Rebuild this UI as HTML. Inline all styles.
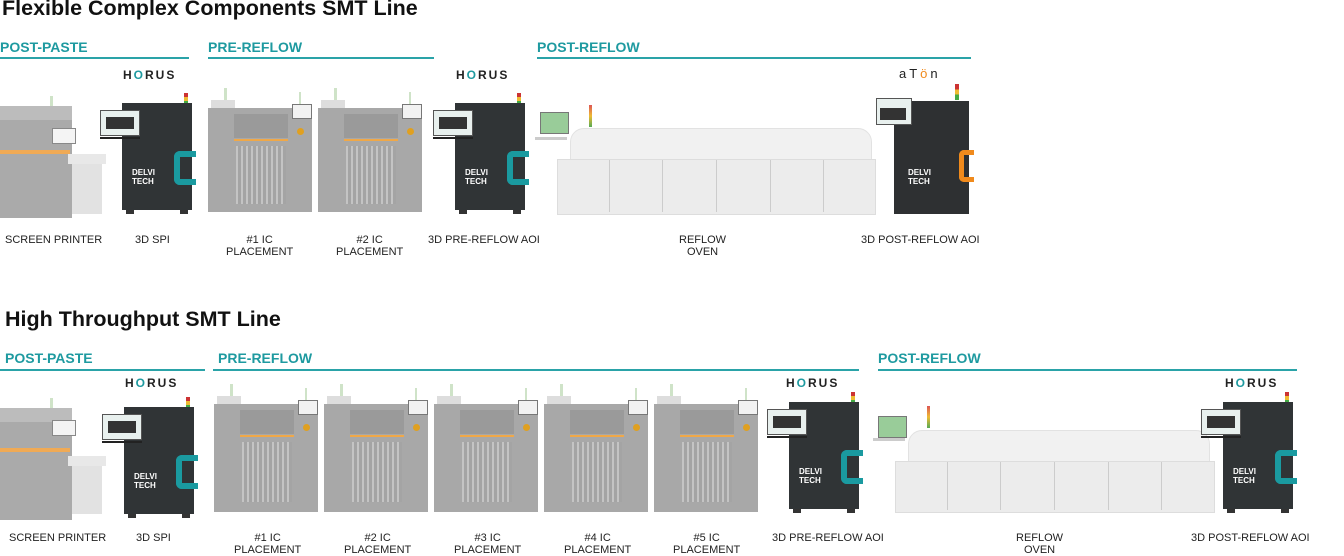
<!DOCTYPE html>
<html><head><meta charset="utf-8"><style>
body{margin:0;width:1344px;height:556px;background:#fff;position:relative;overflow:hidden;font-family:"Liberation Sans",sans-serif}
.t{position:absolute;font-weight:bold;font-size:21.5px;color:#111;white-space:nowrap}
.h{position:absolute;font-weight:bold;font-size:14px;color:#1e9aa0;white-space:nowrap}
.ln{position:absolute;height:1.5px;background:#2aa3a8}
.lb{position:absolute;font-size:11px;color:#222;text-align:center;line-height:12px;white-space:nowrap}
.logo{position:absolute;font-size:12px;letter-spacing:2px;color:#222;font-weight:bold}
.m{position:absolute}
.m div{position:absolute}
.feed{background:repeating-linear-gradient(90deg,#c4c4c4 0 2px,#a4a4a4 2px 5px)}
</style></head><body>

<div class="t" style="left:2px;top:-4px">Flexible Complex Components SMT Line</div>
<div class="h" style="left:0;top:39px">POST-PASTE</div><div class="ln" style="left:0;top:57px;width:189px"></div>
<div class="h" style="left:208px;top:39px">PRE-REFLOW</div><div class="ln" style="left:208px;top:57px;width:226px"></div>
<div class="h" style="left:537px;top:39px">POST-REFLOW</div><div class="ln" style="left:537px;top:57px;width:434px"></div>

<div class="m" style="left:0;top:84px">
<div style="left:50px;top:12px;width:3px;height:14px;background:#cfe3c8"></div>
<div style="left:0;top:22px;width:72px;height:112px;background:#aaa"></div>
<div style="left:0;top:22px;width:72px;height:14px;background:#bcbcbc"></div>
<div style="left:0;top:66px;width:70px;height:4px;background:#f0aa55"></div>
<div style="left:52px;top:44px;width:22px;height:14px;background:#f4f4f4;border:1px solid #888"></div>
<div style="left:68px;top:70px;width:38px;height:10px;background:#e8e8e8"></div>
<div style="left:72px;top:80px;width:30px;height:50px;background:#e2e2e2"></div>
</div>
<div class="logo" style="left:123px;top:68px">H<span style="color:#1e9aa0">O</span>RUS</div>
<div class="m" style="left:100px;top:93px">
<div style="left:84px;top:0;width:4px;height:12px;background:linear-gradient(#c33 0 33%,#eb3 33% 66%,#4a4 66%)"></div>
<div style="left:22px;top:10px;width:70px;height:107px;background:#303436"></div>
<div style="left:0;top:17px;width:38px;height:24px;background:#e8f0ee;border:1px solid #555"></div>
<div style="left:6px;top:24px;width:28px;height:12px;background:#333"></div>
<div style="left:0;top:44px;width:40px;height:2px;background:#222"></div>
<div style="left:74px;top:58px;width:16px;height:22px;border:6px solid #1a9aa0;border-right:none;border-radius:6px 0 0 6px"></div>
<div style="left:32px;top:75px;color:#fff;font-size:8px;font-weight:bold;line-height:9px">DELVI<br>TECH</div>
<div style="left:26px;top:117px;width:8px;height:4px;background:#333"></div><div style="left:80px;top:117px;width:8px;height:4px;background:#333"></div>
</div>

<div class="m" style="left:208px;top:88px">
<div style="left:16px;top:0;width:3px;height:14px;background:#cfe3c8"></div>
<div style="left:3px;top:12px;width:24px;height:8px;background:#ddd"></div>
<div style="left:0;top:20px;width:104px;height:104px;background:#a8a8a8"></div>
<div style="left:26px;top:26px;width:54px;height:24px;background:#9a9a9a"></div>
<div style="left:26px;top:51px;width:54px;height:2px;background:#f0a848"></div>
<div class="feed" style="left:28px;top:58px;width:50px;height:58px"></div>
<div style="left:91px;top:4px;width:2px;height:12px;background:#cfe3c8"></div>
<div style="left:84px;top:16px;width:18px;height:13px;background:#f2f2f2;border:1px solid #777"></div>
<div style="left:89px;top:40px;width:7px;height:7px;border-radius:50%;background:#e0a020"></div>
</div>
<div class="m" style="left:318px;top:88px">
<div style="left:16px;top:0;width:3px;height:14px;background:#cfe3c8"></div>
<div style="left:3px;top:12px;width:24px;height:8px;background:#ddd"></div>
<div style="left:0;top:20px;width:104px;height:104px;background:#a8a8a8"></div>
<div style="left:26px;top:26px;width:54px;height:24px;background:#9a9a9a"></div>
<div style="left:26px;top:51px;width:54px;height:2px;background:#f0a848"></div>
<div class="feed" style="left:28px;top:58px;width:50px;height:58px"></div>
<div style="left:91px;top:4px;width:2px;height:12px;background:#cfe3c8"></div>
<div style="left:84px;top:16px;width:18px;height:13px;background:#f2f2f2;border:1px solid #777"></div>
<div style="left:89px;top:40px;width:7px;height:7px;border-radius:50%;background:#e0a020"></div>
</div>

<div class="logo" style="left:456px;top:68px">H<span style="color:#1e9aa0">O</span>RUS</div>
<div class="m" style="left:433px;top:93px">
<div style="left:84px;top:0;width:4px;height:12px;background:linear-gradient(#c33 0 33%,#eb3 33% 66%,#4a4 66%)"></div>
<div style="left:22px;top:10px;width:70px;height:107px;background:#303436"></div>
<div style="left:0;top:17px;width:38px;height:24px;background:#e8f0ee;border:1px solid #555"></div>
<div style="left:6px;top:24px;width:28px;height:12px;background:#333"></div>
<div style="left:0;top:44px;width:40px;height:2px;background:#222"></div>
<div style="left:74px;top:58px;width:16px;height:22px;border:6px solid #1a9aa0;border-right:none;border-radius:6px 0 0 6px"></div>
<div style="left:32px;top:75px;color:#fff;font-size:8px;font-weight:bold;line-height:9px">DELVI<br>TECH</div>
<div style="left:26px;top:117px;width:8px;height:4px;background:#333"></div><div style="left:80px;top:117px;width:8px;height:4px;background:#333"></div>
</div>

<div class="m" style="left:540px;top:100px">
<div style="left:49px;top:5px;width:3px;height:22px;background:linear-gradient(#d55,#eb3,#5a5)"></div>
<div style="left:0;top:12px;width:27px;height:20px;background:#9c9;border:1px solid #777"></div>
<div style="left:-5px;top:37px;width:32px;height:3px;background:#ccc"></div>
<div style="left:30px;top:28px;width:300px;height:32px;background:#f1f1f1;border-radius:14px 14px 0 0;border:1px solid #e2e2e2"></div>
<div style="left:17px;top:59px;width:317px;height:54px;background:#ececec;border:1px solid #ddd"></div>
<div style="left:69px;top:60px;width:1px;height:52px;background:#ccc"></div>
<div style="left:122px;top:60px;width:1px;height:52px;background:#ccc"></div>
<div style="left:176px;top:60px;width:1px;height:52px;background:#ccc"></div>
<div style="left:230px;top:60px;width:1px;height:52px;background:#ccc"></div>
<div style="left:283px;top:60px;width:1px;height:52px;background:#ccc"></div>
</div>

<div class="logo" style="left:899px;top:66px;color:#222;letter-spacing:3px;font-weight:normal;font-size:13px">aT<span style="color:#f08a1c">ö</span>n</div>
<div class="m" style="left:876px;top:84px">
<div style="left:79px;top:0;width:4px;height:16px;background:linear-gradient(#c33 0 33%,#eb3 33% 66%,#4a4 66%)"></div>
<div style="left:18px;top:17px;width:75px;height:113px;background:#2e3032"></div>
<div style="left:0;top:14px;width:34px;height:25px;background:#e8f0ee;border:1px solid #555"></div>
<div style="left:4px;top:24px;width:26px;height:12px;background:#333"></div>
<div style="left:83px;top:66px;width:10px;height:22px;border:5px solid #f08a1c;border-right:none;border-radius:5px 0 0 5px"></div>
<div style="left:32px;top:84px;color:#fff;font-size:8px;font-weight:bold;line-height:9px">DELVI<br>TECH</div>
</div>

<div class="lb" style="left:5px;top:234px">SCREEN PRINTER</div>
<div class="lb" style="left:135px;top:234px">3D SPI</div>
<div class="lb" style="left:226px;top:234px">#1 IC<br>PLACEMENT</div>
<div class="lb" style="left:336px;top:234px">#2 IC<br>PLACEMENT</div>
<div class="lb" style="left:428px;top:234px">3D PRE-REFLOW AOI</div>
<div class="lb" style="left:679px;top:234px">REFLOW<br>OVEN</div>
<div class="lb" style="left:861px;top:234px">3D POST-REFLOW AOI</div>

<div class="t" style="left:5px;top:307px">High Throughput SMT Line</div>
<div class="h" style="left:5px;top:350px">POST-PASTE</div><div class="ln" style="left:0;top:369px;width:205px"></div>
<div class="h" style="left:218px;top:350px">PRE-REFLOW</div><div class="ln" style="left:213px;top:369px;width:646px"></div>
<div class="h" style="left:878px;top:350px">POST-REFLOW</div><div class="ln" style="left:878px;top:369px;width:419px"></div>

<div class="m" style="left:0;top:386px">
<div style="left:50px;top:12px;width:3px;height:14px;background:#cfe3c8"></div>
<div style="left:0;top:22px;width:72px;height:112px;background:#aaa"></div>
<div style="left:0;top:22px;width:72px;height:14px;background:#bcbcbc"></div>
<div style="left:0;top:62px;width:70px;height:4px;background:#f0aa55"></div>
<div style="left:52px;top:34px;width:22px;height:14px;background:#f4f4f4;border:1px solid #888"></div>
<div style="left:68px;top:70px;width:38px;height:10px;background:#e8e8e8"></div>
<div style="left:72px;top:80px;width:30px;height:48px;background:#e2e2e2"></div>
</div>
<div class="logo" style="left:125px;top:376px">H<span style="color:#1e9aa0">O</span>RUS</div>
<div class="m" style="left:102px;top:397px">
<div style="left:84px;top:0;width:4px;height:12px;background:linear-gradient(#c33 0 33%,#eb3 33% 66%,#4a4 66%)"></div>
<div style="left:22px;top:10px;width:70px;height:107px;background:#303436"></div>
<div style="left:0;top:17px;width:38px;height:24px;background:#e8f0ee;border:1px solid #555"></div>
<div style="left:6px;top:24px;width:28px;height:12px;background:#333"></div>
<div style="left:0;top:44px;width:40px;height:2px;background:#222"></div>
<div style="left:74px;top:58px;width:16px;height:22px;border:6px solid #1a9aa0;border-right:none;border-radius:6px 0 0 6px"></div>
<div style="left:32px;top:75px;color:#fff;font-size:8px;font-weight:bold;line-height:9px">DELVI<br>TECH</div>
<div style="left:26px;top:117px;width:8px;height:4px;background:#333"></div><div style="left:80px;top:117px;width:8px;height:4px;background:#333"></div>
</div>

<div class="m" style="left:214px;top:384px"><div style="left:16px;top:0;width:3px;height:14px;background:#cfe3c8"></div><div style="left:3px;top:12px;width:24px;height:8px;background:#ddd"></div><div style="left:0;top:20px;width:104px;height:108px;background:#a8a8a8"></div><div style="left:26px;top:26px;width:54px;height:24px;background:#9a9a9a"></div><div style="left:26px;top:51px;width:54px;height:2px;background:#f0a848"></div><div class="feed" style="left:28px;top:58px;width:50px;height:60px"></div><div style="left:91px;top:4px;width:2px;height:12px;background:#cfe3c8"></div><div style="left:84px;top:16px;width:18px;height:13px;background:#f2f2f2;border:1px solid #777"></div><div style="left:89px;top:40px;width:7px;height:7px;border-radius:50%;background:#e0a020"></div></div>
<div class="m" style="left:324px;top:384px"><div style="left:16px;top:0;width:3px;height:14px;background:#cfe3c8"></div><div style="left:3px;top:12px;width:24px;height:8px;background:#ddd"></div><div style="left:0;top:20px;width:104px;height:108px;background:#a8a8a8"></div><div style="left:26px;top:26px;width:54px;height:24px;background:#9a9a9a"></div><div style="left:26px;top:51px;width:54px;height:2px;background:#f0a848"></div><div class="feed" style="left:28px;top:58px;width:50px;height:60px"></div><div style="left:91px;top:4px;width:2px;height:12px;background:#cfe3c8"></div><div style="left:84px;top:16px;width:18px;height:13px;background:#f2f2f2;border:1px solid #777"></div><div style="left:89px;top:40px;width:7px;height:7px;border-radius:50%;background:#e0a020"></div></div>
<div class="m" style="left:434px;top:384px"><div style="left:16px;top:0;width:3px;height:14px;background:#cfe3c8"></div><div style="left:3px;top:12px;width:24px;height:8px;background:#ddd"></div><div style="left:0;top:20px;width:104px;height:108px;background:#a8a8a8"></div><div style="left:26px;top:26px;width:54px;height:24px;background:#9a9a9a"></div><div style="left:26px;top:51px;width:54px;height:2px;background:#f0a848"></div><div class="feed" style="left:28px;top:58px;width:50px;height:60px"></div><div style="left:91px;top:4px;width:2px;height:12px;background:#cfe3c8"></div><div style="left:84px;top:16px;width:18px;height:13px;background:#f2f2f2;border:1px solid #777"></div><div style="left:89px;top:40px;width:7px;height:7px;border-radius:50%;background:#e0a020"></div></div>
<div class="m" style="left:544px;top:384px"><div style="left:16px;top:0;width:3px;height:14px;background:#cfe3c8"></div><div style="left:3px;top:12px;width:24px;height:8px;background:#ddd"></div><div style="left:0;top:20px;width:104px;height:108px;background:#a8a8a8"></div><div style="left:26px;top:26px;width:54px;height:24px;background:#9a9a9a"></div><div style="left:26px;top:51px;width:54px;height:2px;background:#f0a848"></div><div class="feed" style="left:28px;top:58px;width:50px;height:60px"></div><div style="left:91px;top:4px;width:2px;height:12px;background:#cfe3c8"></div><div style="left:84px;top:16px;width:18px;height:13px;background:#f2f2f2;border:1px solid #777"></div><div style="left:89px;top:40px;width:7px;height:7px;border-radius:50%;background:#e0a020"></div></div>
<div class="m" style="left:654px;top:384px"><div style="left:16px;top:0;width:3px;height:14px;background:#cfe3c8"></div><div style="left:3px;top:12px;width:24px;height:8px;background:#ddd"></div><div style="left:0;top:20px;width:104px;height:108px;background:#a8a8a8"></div><div style="left:26px;top:26px;width:54px;height:24px;background:#9a9a9a"></div><div style="left:26px;top:51px;width:54px;height:2px;background:#f0a848"></div><div class="feed" style="left:28px;top:58px;width:50px;height:60px"></div><div style="left:91px;top:4px;width:2px;height:12px;background:#cfe3c8"></div><div style="left:84px;top:16px;width:18px;height:13px;background:#f2f2f2;border:1px solid #777"></div><div style="left:89px;top:40px;width:7px;height:7px;border-radius:50%;background:#e0a020"></div></div>

<div class="logo" style="left:786px;top:376px">H<span style="color:#1e9aa0">O</span>RUS</div>
<div class="m" style="left:767px;top:392px">
<div style="left:84px;top:0;width:4px;height:12px;background:linear-gradient(#c33 0 33%,#eb3 33% 66%,#4a4 66%)"></div>
<div style="left:22px;top:10px;width:70px;height:107px;background:#303436"></div>
<div style="left:0;top:17px;width:38px;height:24px;background:#e8f0ee;border:1px solid #555"></div>
<div style="left:6px;top:24px;width:28px;height:12px;background:#333"></div>
<div style="left:0;top:44px;width:40px;height:2px;background:#222"></div>
<div style="left:74px;top:58px;width:16px;height:22px;border:6px solid #1a9aa0;border-right:none;border-radius:6px 0 0 6px"></div>
<div style="left:32px;top:75px;color:#fff;font-size:8px;font-weight:bold;line-height:9px">DELVI<br>TECH</div>
<div style="left:26px;top:117px;width:8px;height:4px;background:#333"></div><div style="left:80px;top:117px;width:8px;height:4px;background:#333"></div>
</div>

<div class="m" style="left:878px;top:404px">
<div style="left:49px;top:2px;width:3px;height:22px;background:linear-gradient(#d55,#eb3,#5a5)"></div>
<div style="left:0;top:12px;width:27px;height:20px;background:#9c9;border:1px solid #777"></div>
<div style="left:-5px;top:34px;width:32px;height:3px;background:#ccc"></div>
<div style="left:30px;top:26px;width:300px;height:32px;background:#f1f1f1;border-radius:14px 14px 0 0;border:1px solid #e2e2e2"></div>
<div style="left:17px;top:57px;width:318px;height:50px;background:#ececec;border:1px solid #ddd"></div>
<div style="left:69px;top:58px;width:1px;height:48px;background:#ccc"></div>
<div style="left:122px;top:58px;width:1px;height:48px;background:#ccc"></div>
<div style="left:176px;top:58px;width:1px;height:48px;background:#ccc"></div>
<div style="left:230px;top:58px;width:1px;height:48px;background:#ccc"></div>
<div style="left:283px;top:58px;width:1px;height:48px;background:#ccc"></div>
</div>

<div class="logo" style="left:1225px;top:376px">H<span style="color:#1e9aa0">O</span>RUS</div>
<div class="m" style="left:1201px;top:392px">
<div style="left:84px;top:0;width:4px;height:12px;background:linear-gradient(#c33 0 33%,#eb3 33% 66%,#4a4 66%)"></div>
<div style="left:22px;top:10px;width:70px;height:107px;background:#303436"></div>
<div style="left:0;top:17px;width:38px;height:24px;background:#e8f0ee;border:1px solid #555"></div>
<div style="left:6px;top:24px;width:28px;height:12px;background:#333"></div>
<div style="left:0;top:44px;width:40px;height:2px;background:#222"></div>
<div style="left:74px;top:58px;width:16px;height:22px;border:6px solid #1a9aa0;border-right:none;border-radius:6px 0 0 6px"></div>
<div style="left:32px;top:75px;color:#fff;font-size:8px;font-weight:bold;line-height:9px">DELVI<br>TECH</div>
<div style="left:26px;top:117px;width:8px;height:4px;background:#333"></div><div style="left:80px;top:117px;width:8px;height:4px;background:#333"></div>
</div>

<div class="lb" style="left:9px;top:532px">SCREEN PRINTER</div>
<div class="lb" style="left:136px;top:532px">3D SPI</div>
<div class="lb" style="left:234px;top:532px">#1 IC<br>PLACEMENT</div>
<div class="lb" style="left:344px;top:532px">#2 IC<br>PLACEMENT</div>
<div class="lb" style="left:454px;top:532px">#3 IC<br>PLACEMENT</div>
<div class="lb" style="left:564px;top:532px">#4 IC<br>PLACEMENT</div>
<div class="lb" style="left:673px;top:532px">#5 IC<br>PLACEMENT</div>
<div class="lb" style="left:772px;top:532px">3D PRE-REFLOW AOI</div>
<div class="lb" style="left:1016px;top:532px">REFLOW<br>OVEN</div>
<div class="lb" style="left:1191px;top:532px">3D POST-REFLOW AOI</div>
</body></html>
